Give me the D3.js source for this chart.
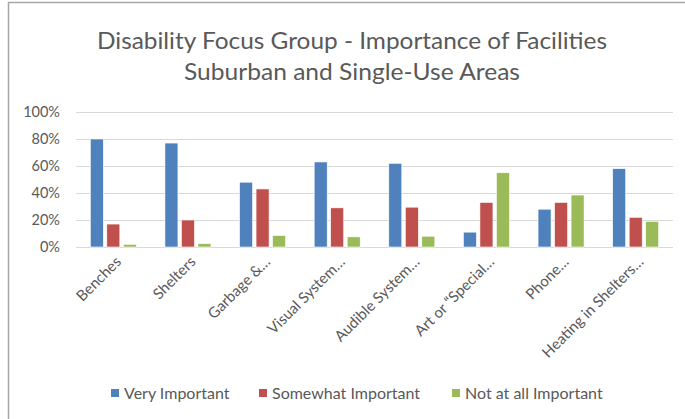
<!DOCTYPE html>
<html>
<head>
<meta charset="utf-8">
<script src="https://cdn.jsdelivr.net/npm/d3@7"></script>
<style>
  body { margin: 0; background: #fff; }
  svg text { font-family: Lato, "Open Sans", sans-serif; fill: #595959; }
</style>
</head>
<body>
<div class="chart"></div>
<script>
var categories = ["Benches", "Shelters", "Garbage &\u2026", "Visual System\u2026",
    "Audible System\u2026", "Art or \u201CSpecial\u2026", "Phone\u2026", "Heating in Shelters\u2026"];

var seriesNames = ["Very Important", "Somewhat Important", "Not at all Important"];

var veryImportant = [80, 77, 48, 63, 62, 11, 28, 58];
var somewhatImportant = [17, 20, 43, 29, 29.5, 33, 33, 22];
var notImportant = [2, 2.5, 8.5, 7.5, 8, 55, 38.5, 19];

var yTicks = [0, 20, 40, 60, 80, 100];

var colors = ["#4F81BD", "#C0504D", "#9BBB59"];

var width = 685, height = 419;

var svg = d3.select(".chart")
    .append("svg")
    .attr("width", width)
    .attr("height", height);

// chart frame (runs off the right and bottom of the picture)
svg.append("rect")
    .attr("x", 8.5)
    .attr("y", 2.5)
    .attr("width", 700)
    .attr("height", 440)
    .attr("fill", "none")
    .attr("stroke", "#A6A6A6")
    .attr("stroke-width", 1.5);

// title, two lines, stretched to the widths of the original
var title = svg.append("text")
    .attr("text-anchor", "middle")
    .attr("font-size", 24);
title.append("tspan")
    .attr("x", 352).attr("y", 49)
    .attr("textLength", 510).attr("lengthAdjust", "spacingAndGlyphs")
    .text("Disability Focus Group - Importance of Facilities");
title.append("tspan")
    .attr("x", 352).attr("y", 80)
    .attr("textLength", 336).attr("lengthAdjust", "spacingAndGlyphs")
    .text("Suburban and Single-Use Areas");

var plot = { left: 76, right: 673, top: 112, bottom: 247 };

var x0 = d3.scaleBand()
    .domain(categories)
    .range([plot.left, plot.right])
    .padding(0);

var x1 = d3.scaleBand()
    .domain(seriesNames)
    .range([14.3, x0.bandwidth() - 14.3])
    .paddingInner(0.212);

var y = d3.scaleLinear()
    .domain([0, 100])
    .range([plot.bottom, plot.top]);

// gridlines + y labels
var yAxis = svg.append("g")
    .attr("transform", "translate(" + plot.left + ",0)")
    .call(d3.axisLeft(y)
        .tickValues(yTicks)
        .tickSize(-(plot.right - plot.left))
        .tickPadding(16)
        .tickFormat(function (d) { return d + "%"; }));
yAxis.select(".domain").remove();
yAxis.selectAll(".tick line").attr("stroke", "#D9D9D9");
yAxis.selectAll(".tick text")
    .attr("font-size", 14.5)
    .attr("font-family", null)
    .attr("fill", "#595959");

// bars
var rows = categories.map(function (c, i) {
    return { cat: c, values: [veryImportant[i], somewhatImportant[i], notImportant[i]] };
});

var groups = svg.selectAll("g.cat")
    .data(rows)
    .enter()
    .append("g")
    .attr("class", "cat")
    .attr("transform", function (d) { return "translate(" + x0(d.cat) + ",0)"; });

groups.selectAll("rect")
    .data(function (d) {
        return d.values.map(function (v, j) { return { name: seriesNames[j], value: v, j: j }; });
    })
    .enter()
    .append("rect")
    .attr("x", function (d) { return x1(d.name); })
    .attr("y", function (d) { return y(d.value); })
    .attr("width", x1.bandwidth())
    .attr("height", function (d) { return y(0) - y(d.value); })
    .attr("fill", function (d) { return colors[d.j]; })
    .attr("stroke", "#fff")
    .attr("stroke-width", 0.6);

// x labels, rotated
svg.append("g")
    .selectAll("text")
    .data(categories)
    .enter()
    .append("text")
    .attr("transform", function (d) {
        return "translate(" + (x0(d) + x0.bandwidth() / 2 + 5) + "," + (plot.bottom + 12) + ") rotate(-45)";
    })
    .attr("text-anchor", "end")
    .attr("dy", "0.35em")
    .attr("font-size", 15)
    .text(function (d) { return d; });

// legend
var legendX = [111, 259, 452];
var legend = svg.append("g")
    .selectAll("g")
    .data(seriesNames)
    .enter()
    .append("g")
    .attr("transform", function (d, i) { return "translate(" + legendX[i] + ",393)"; });
legend.append("rect")
    .attr("x", 0)
    .attr("y", -4)
    .attr("width", 8)
    .attr("height", 8)
    .attr("fill", function (d, i) { return colors[i]; });
legend.append("text")
    .attr("x", 13)
    .attr("dy", "0.35em")
    .attr("font-size", 16)
    .text(function (d) { return d; });
</script>
</body>
</html>
